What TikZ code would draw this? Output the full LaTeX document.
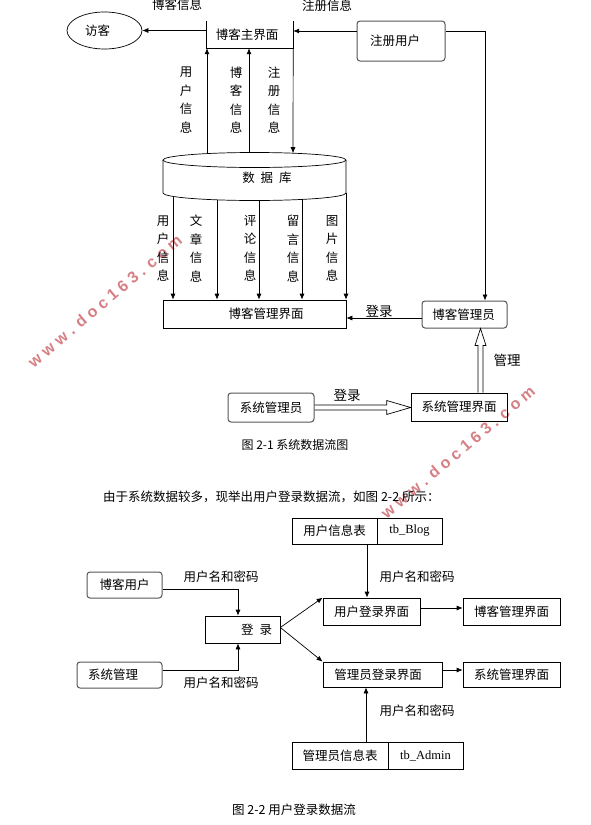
\documentclass[tikz,border=0pt]{standalone}
\usepackage{fontspec}
\newfontfamily\cjk{Noto Sans CJK SC}
\newfontfamily\tms{Liberation Serif}
\newfontfamily\wmf{Liberation Sans}
\usetikzlibrary{arrows.meta,calc,shapes.geometric}
\definecolor{wm}{RGB}{214,128,134}
\definecolor{rb}{RGB}{85,85,85}
\tikzset{
 base/.style={font=\cjk\fontsize{12.5}{15}\selectfont, inner sep=0pt},
 box/.style={base, draw, line width=0.7pt},
 rbox/.style={base, draw=rb, line width=1pt, rounded corners=3pt},
 arr/.style={line width=0.7pt, -{Latex[length=6pt,width=5pt]}},
 ln/.style={line width=0.7pt},
 vlab/.style={base, align=center, font=\cjk\fontsize{12.5}{18.5}\selectfont},
 lab/.style={base},
 biglab/.style={base, font=\cjk\fontsize{13.5}{16}\selectfont},
 hol/.style={line width=0.7pt, line join=miter},
 wmark/.style={text=wm, font=\wmf\fontsize{16}{16}\selectfont\bfseries, rotate=40, inner sep=0pt},
 tb/.style={box, font=\tms\fontsize{12.5}{14}\selectfont},
}
\begin{document}
\begin{tikzpicture}[x=1pt,y=-1pt]
\useasboundingbox (0,0) rectangle (591,825);

% watermarks
\node[wmark] (wm1) at (105,301) {w w w . d o c 1 6 3 . c o m};
\node[wmark] (wm2) at (458,452) {w w w . d o c 1 6 3 . c o m};

% ---------- figure 2-1 ----------
\node[box, ellipse, minimum width=75pt, minimum height=37pt] (fk) at (104.5,30.5) {访客\hspace*{14pt}};
\node[base, minimum width=86pt, minimum height=27pt] (zj) at (250,34.5) {博客主界面\hspace*{6pt}};
\draw[ln] (zj.north west) -- (zj.south west) -- (zj.south east) -- (zj.north east);
\node[rbox, minimum width=88pt, minimum height=40pt] (zc) at (401,41) {注册用户\hspace*{12pt}};

\node[lab] (l1) at (177,5) {博客信息};
\node[lab] (l2) at (327,6) {注册信息};

\draw[arr] (zj.west |- fk.east) -- (fk.east);
\draw[arr] ([yshift=10pt]zc.west) -- ([yshift=10pt]zc.west -| zj.east);

% database
\fill[white] (163,160) -- (163,193) .. controls (163,197.14) and (203.97,200.5) .. (254.5,200.5)
  .. controls (305.03,200.5) and (346,197.14) .. (346,193) -- (346,160) -- cycle;
\draw[ln] (163,160) -- (163,193) .. controls (163,197.14) and (203.97,200.5) .. (254.5,200.5)
  .. controls (305.03,200.5) and (346,197.14) .. (346,193) -- (346,160);
\draw[ln, fill=white] (254.5,160) ellipse [x radius=91.5, y radius=7.5];
\node[base, minimum width=183pt, minimum height=30pt] (db) at (254.5,178) {\hspace*{25pt}数\hspace{6pt}据\hspace{6pt}库};

\coordinate (u1) at (207,153.6);
\coordinate (u2) at (249,152.5);
\coordinate (u3) at (293,153.2);
\draw[arr] (u1) -- (u1 |- zj.south);
\draw[arr] (u2) -- (u2 |- zj.south);
\draw[arr] (zj.south east) -- (u3);

\node[vlab] (v1) at (186,100) {用\\户\\信\\息};
\node[vlab] (v2) at (236,100) {博\\客\\信\\息};
\node[vlab] (v3) at (274,100) {注\\册\\信\\息};

\node[box, minimum width=183pt, minimum height=28pt] (gl) at (254.5,314) {\hspace*{23pt}博客管理界面};

\coordinate (d1) at (173,196.4);
\coordinate (d2) at (217,199.8);
\coordinate (d3) at (259,200.5);
\coordinate (d4) at (302,199.4);
\coordinate (d5) at (346,193);
\foreach \d in {d1,d2,d3,d4,d5}{\draw[arr] (\d) -- (\d |- gl.north);}

\node[vlab] (w1) at (163,248.5) {用\\户\\信\\息};
\node[vlab] (w2) at (196,248.5) {文\\章\\信\\息};
\node[vlab] (w3) at (250,248.5) {评\\论\\信\\息};
\node[vlab] (w4) at (293,248.5) {留\\言\\信\\息};
\node[vlab] (w5) at (332,248.5) {图\\片\\信\\息};

\node[rbox, minimum width=85pt, minimum height=27pt] (gy) at (464.5,314.5) {博客管理员\hspace*{2pt}};
\draw[arr] ([yshift=10pt]zc.east) -| ([xshift=20.5pt]gy.north);
\draw[arr] ([yshift=-3.5pt]gy.west) -- ([yshift=-3.5pt]gy.west -| gl.east);
\node[biglab] (l3) at (379,311) {登录};

\node[box, minimum width=96pt, minimum height=28pt] (xj) at (459,407) {系统管理界面};
\node[rbox, minimum width=86pt, minimum height=29pt] (xy) at (271,407.5) {系统管理员};

\coordinate (ha) at ([xshift=21.5pt]xj.north);
\coordinate (ht) at (ha |- gy.south);
\draw[hol] ($(ha)+(-2.5,0)$) -- ($(ht)+(-2.5,17)$) -- ($(ht)+(-5.5,17)$) -- (ht)
  -- ($(ht)+(5.5,17)$) -- ($(ht)+(2.5,17)$) -- ($(ha)+(2.5,0)$);
\node[biglab] (l4) at (507,360) {管理};

\coordinate (hb) at (xy.east);
\coordinate (hu) at (xj.west |- hb);
\draw[hol] ($(hb)+(0,-2.5)$) -- ($(hu)+(-24,-2.5)$) -- ($(hu)+(-24,-7)$) -- (hu)
  -- ($(hu)+(-24,7)$) -- ($(hu)+(-24,2.5)$) -- ($(hb)+(0,2.5)$);
\node[biglab] (l5) at (347,395) {登录};

\node[base, font=\cjk\fontsize{12}{14}\selectfont] (cap1) at (295,445) {图 2-1 系统数据流图};

\node[base, font=\cjk\fontsize{12.5}{14}\selectfont, anchor=west] (para) at (103,497) {由于系统数据较多，现举出用户登录数据流，如图 2-2 所示：};

% ---------- figure 2-2 ----------
\node[box, minimum width=85pt, minimum height=26pt] (t1a) at (334.5,531) {用户信息表};
\node[tb, minimum width=65pt, minimum height=26pt] (t1b) at (409.5,531) {tb\_Blog};

\node[rbox, minimum width=75pt, minimum height=26pt] (bu) at (124.5,585) {博客用户};
\node[rbox, minimum width=85pt, minimum height=26pt] (xg) at (119.5,675) {系统管理\hspace*{13pt}};
\node[box, minimum width=75pt, minimum height=27pt] (dl) at (242.5,629.5) {\hspace*{28pt}登\hspace{6pt}录};

\node[box, minimum width=97pt, minimum height=27pt] (yd) at (371.5,611.5) {用户登录界面};
\node[box, minimum width=97pt, minimum height=27pt] (bg2) at (511.5,611.5) {博客管理界面};
\node[box, minimum width=119pt, minimum height=25pt] (gd) at (382.5,674.5) {管理员登录界面\hspace*{9pt}};
\node[box, minimum width=97pt, minimum height=25pt] (xj2) at (511.5,674.5) {系统管理界面};

\node[box, minimum width=96pt, minimum height=27pt] (t2a) at (340,755.5) {管理员信息表};
\node[tb, minimum width=75pt, minimum height=27pt] (t2b) at (425.5,755.5) {tb\_Admin};

\draw[arr] ([yshift=-4pt]bu.east) -| ([xshift=-4.5pt]dl.north);
\draw[arr] ([yshift=5pt]xg.east) -| ([xshift=-4.5pt]dl.south);
\node[lab] (m1) at (221,577) {用户名和密码};
\node[lab] (m2) at (221,683) {用户名和密码};

\draw[arr] ([yshift=2pt]dl.east) -- (yd.north west);
\draw[arr] ([yshift=2pt]dl.east) -- (gd.north west);

\draw[arr] ([xshift=32.5pt]t1a.south) -- ([xshift=32.5pt]t1a.south |- yd.north);
\node[lab] (m3) at (417,577) {用户名和密码};

\draw[arr] ([yshift=3.5pt]yd.east) -- ([yshift=3.5pt]yd.east -| bg2.west);
\draw[arr] ([yshift=4.5pt]gd.east) -- ([yshift=4.5pt]gd.east -| xj2.west);

\draw[arr] ([xshift=26pt]t2a.north) -- ([xshift=26pt]t2a.north |- gd.south);
\node[lab] (m4) at (417,711) {用户名和密码};

\node[base, font=\cjk\fontsize{12.5}{14}\selectfont] (cap2) at (294,810) {图 2-2 用户登录数据流};
\end{tikzpicture}
\end{document}
